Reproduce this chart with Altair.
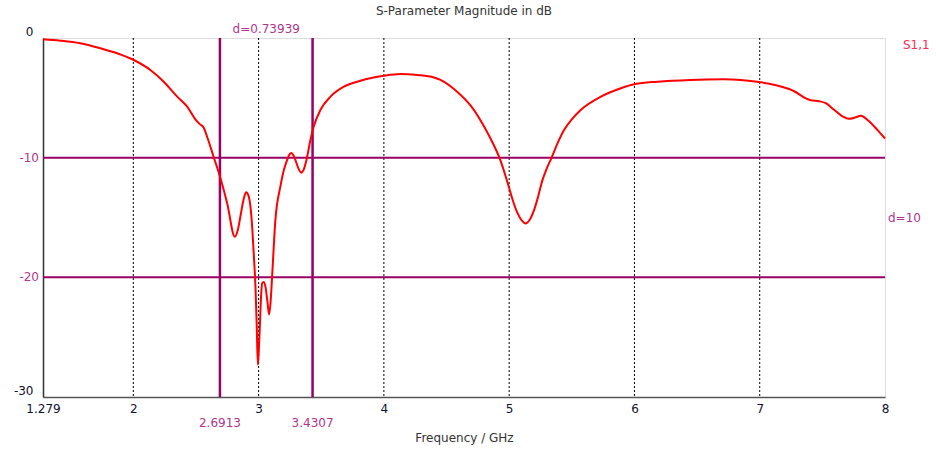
import altair as alt
import pandas as pd

freq = [1.279, 1.417, 1.577, 1.737, 1.87, 2.003, 2.136, 2.243, 2.35, 2.43, 2.495, 2.53,
        2.562, 2.589, 2.64, 2.695, 2.749, 2.81, 2.835, 2.855, 2.88, 2.9, 2.92, 2.935,
        2.95, 2.961, 2.975, 2.985, 2.994, 3.002, 3.01, 3.02, 3.028, 3.04, 3.055, 3.07,
        3.084, 3.096, 3.108, 3.134, 3.174, 3.2, 3.227, 3.245, 3.262, 3.278, 3.294, 3.318,
        3.34, 3.36, 3.382, 3.414, 3.44, 3.494, 3.574, 3.68, 3.813, 4.0, 4.133, 4.266,
        4.4, 4.452, 4.585, 4.718, 4.8, 4.87, 4.926, 4.985, 5.03, 5.065, 5.1, 5.131,
        5.16, 5.198, 5.23, 5.265, 5.3, 5.339, 5.39, 5.437, 5.5, 5.573, 5.733, 5.892,
        6.005, 6.184, 6.449, 6.715, 6.849, 7.01, 7.168, 7.275, 7.368, 7.408, 7.475, 7.528,
        7.594, 7.661, 7.714, 7.76, 7.808, 7.861, 7.941, 8.0]
s11_db = [-0.1, -0.22, -0.44, -0.86, -1.28, -1.84, -2.67, -3.65, -4.9, -5.74, -6.8, -7.2,
          -7.5, -8.25, -9.9, -11.7, -13.8, -16.6, -16.0, -14.9, -13.5, -12.9, -13.2, -14.1,
          -16.0, -18.0, -20.8, -24.0, -27.3, -26.0, -24.1, -21.5, -20.5, -20.4, -20.8, -22.0,
          -23.1, -22.0, -19.9, -15.2, -12.4, -11.1, -10.2, -9.75, -9.6, -9.8, -10.2, -10.9,
          -11.25, -11.0, -10.2, -8.5, -7.4, -6.0, -4.9, -4.07, -3.57, -3.15, -3.0, -3.09,
          -3.3, -3.5, -4.5, -6.0, -7.4, -8.8, -10.1, -12.0, -13.6, -14.6, -15.25, -15.5,
          -15.25, -14.4, -13.3, -11.9, -10.9, -10.0, -8.7, -7.7, -6.8, -6.0, -4.9, -4.2,
          -3.85, -3.65, -3.5, -3.45, -3.5, -3.7, -4.05, -4.45, -5.05, -5.2, -5.28, -5.45,
          -6.0, -6.55, -6.75, -6.65, -6.5, -6.85, -7.7, -8.4]

x_ticks = [1.279, 2, 3, 4, 5, 6, 7, 8]
grid_x = [2, 3, 4, 5, 6, 7]
y_ticks = [-30, 0]
marker_x = [2.6913, 3.4307]
marker_x_labels = ["2.6913", "3.4307"]
marker_y = [-10, -20]
marker_y_labels = ["-10", "-20"]
delta_x_label = "d=0.73939"
delta_y_label = "d=10"
series_name = "S1,1"

X_MIN, X_MAX = 1.279, 8
Y_MIN, Y_MAX = -30, 0
MAG = "#990066"
MAG_TXT = "#B0368C"
FONT = "DejaVu Sans"

curve_df = pd.DataFrame({"f": freq, "db": s11_db})
xs = alt.Scale(domain=[X_MIN, X_MAX], nice=False, zero=False)
ys = alt.Scale(domain=[Y_MIN, Y_MAX], nice=False, zero=False)

base_x = alt.X("f:Q", scale=xs, title="Frequency / GHz",
               axis=alt.Axis(values=x_ticks, labelExpr="'' + datum.value", labelFlush=False,
                             grid=False, ticks=False,
                             labelPadding=6, labelFontSize=12, labelColor="#101030",
                             titleFontSize=12, titleFontWeight="normal", titleColor="#333333",
                             titlePadding=18, domainColor="#555555", domainWidth=1.5,
                             labelFont=FONT, titleFont=FONT))
base_y = alt.Y("db:Q", scale=ys, title=None,
               axis=alt.Axis(values=y_ticks, labelExpr="'' + datum.value", grid=False,
                             labelFlush=False,
                             ticks=False, labelPadding=10, labelBaseline="bottom",
                             labelFontSize=12, labelColor="#101030", domainColor="#333333",
                             domainWidth=1.5, labelFont=FONT))

grid = alt.Chart(pd.DataFrame({"f": grid_x})).mark_rule(
    color="black", strokeDash=[2, 2], strokeWidth=1
).encode(x=alt.X("f:Q", scale=xs))

hlines = alt.Chart(pd.DataFrame({"db": marker_y, "lab": marker_y_labels})).mark_rule(
    color=MAG, strokeWidth=2
).encode(y=alt.Y("db:Q", scale=ys))

vlines = alt.Chart(pd.DataFrame({"f": marker_x, "lab": marker_x_labels})).mark_rule(
    color=MAG, strokeWidth=2.5
).encode(x=alt.X("f:Q", scale=xs))

curve = alt.Chart(curve_df).mark_line(
    color="#ff0000", strokeWidth=2, interpolate="monotone"
).encode(x=base_x, y=base_y)

ylab = alt.Chart(pd.DataFrame({"f": [X_MIN] * 2, "db": marker_y, "lab": marker_y_labels})).mark_text(
    align="right", baseline="middle", dx=-4, color=MAG_TXT, fontSize=12, font=FONT
).encode(x=alt.X("f:Q", scale=xs), y=alt.Y("db:Q", scale=ys), text="lab:N")

xlab = alt.Chart(pd.DataFrame({"f": marker_x, "db": [Y_MIN] * 2, "lab": marker_x_labels})).mark_text(
    align="center", baseline="middle", dy=26, color=MAG_TXT, fontSize=12, font=FONT
).encode(x=alt.X("f:Q", scale=xs), y=alt.Y("db:Q", scale=ys), text="lab:N")

dxlab = alt.Chart(pd.DataFrame({"f": [sum(marker_x) / 2], "db": [Y_MAX], "lab": [delta_x_label]})).mark_text(
    align="center", baseline="bottom", dy=-2, color=MAG_TXT, fontSize=12, font=FONT
).encode(x=alt.X("f:Q", scale=xs), y=alt.Y("db:Q", scale=ys), text="lab:N")

dylab = alt.Chart(pd.DataFrame({"f": [X_MAX], "db": [-15], "lab": [delta_y_label]})).mark_text(
    align="left", baseline="middle", dx=3, color=MAG_TXT, fontSize=12, font=FONT
).encode(x=alt.X("f:Q", scale=xs), y=alt.Y("db:Q", scale=ys), text="lab:N")

serlab = alt.Chart(pd.DataFrame({"f": [X_MAX], "db": [-0.55], "lab": [series_name]})).mark_text(
    align="left", baseline="middle", dx=18, color="#ff2a55", fontSize=12, font=FONT
).encode(x=alt.X("f:Q", scale=xs), y=alt.Y("db:Q", scale=ys), text="lab:N")

chart = alt.layer(grid, hlines, vlines, curve, ylab, xlab, dxlab, dylab, serlab).properties(
    width=842, height=359,
    autosize=alt.AutoSizeParams(type="none"),
    padding={"left": 43, "top": 38, "right": 51, "bottom": 53},
    title=alt.TitleParams("S-Parameter Magnitude in dB", fontSize=12, fontWeight="normal",
                          color="#333333", font=FONT, offset=5, anchor="middle"),
).configure_view(stroke="#999999", strokeWidth=2).configure(background="white")

chart.save("out.html", embed_options={"renderer": "svg", "actions": False})
